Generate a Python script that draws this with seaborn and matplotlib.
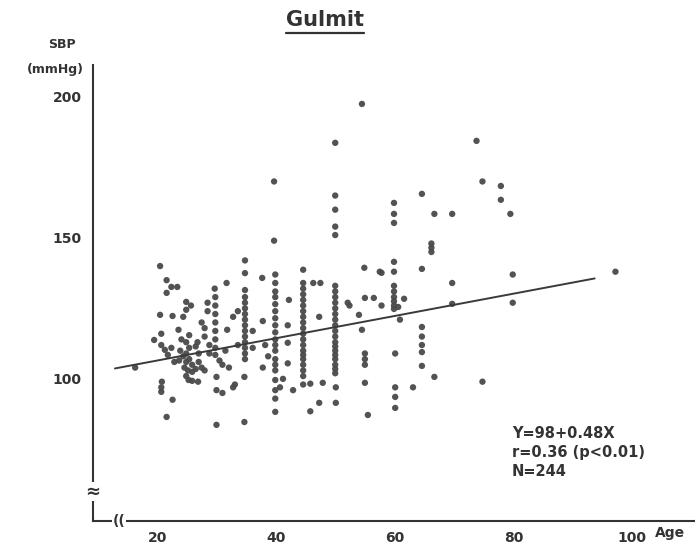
import matplotlib
matplotlib.use("Agg")
import matplotlib.pyplot as plt
import seaborn as sns
import pandas as pd
import numpy as np
from matplotlib.lines import Line2D

# ---------------- data ----------------
age = [
    # ~17-23
    16.3, 20.5, 21.6, 22.4, 23.4, 21.6, 20.5, 22.6, 23.6, 20.7, 19.5, 20.7, 21.3, 21.8, 20.8, 20.7, 20.7, 22.6, 21.6, 22.9, 22.4,
    # 24-27 cluster
    24.4, 24.9, 25.7, 24.9, 24.1, 24.9, 25.4, 24.9, 24.4, 25.4, 24.9, 25.9, 24.6, 25.2, 25.9, 24.9, 26.5, 27.0, 27.0, 26.5,
    25.3, 26.9, 25.9, 25.4, 26.8, 27.5, 23.9, 23.7,
    # 27-33
    27.5, 28.0, 28.0, 28.5, 28.5, 29.7, 29.8, 29.8, 29.8, 29.8, 29.8, 29.8, 29.8, 29.8, 28.8, 28.8, 30.0, 30.0, 31.0, 30.0,
    31.0, 32.1, 31.7, 31.8, 32.8, 32.8, 33.1, 31.5, 30.5, 28.0,
    # ~35
    34.8, 34.8, 34.8, 34.8, 34.8, 34.8, 34.8, 34.8, 34.8, 34.8, 34.8, 34.8, 34.8, 34.8, 34.8, 34.7, 34.7, 36.1, 33.6, 36.1, 33.6,
    # ~40
    37.7, 37.8, 37.8, 39.9, 39.9, 39.9, 39.9, 39.9, 39.9, 39.9, 39.9, 39.9, 39.9, 39.9, 39.9, 39.9, 39.9, 39.9, 39.9, 39.9,
    39.9, 39.9, 38.2, 39.7, 39.7, 38.7, 41.2,
    # 41-43
    42.0, 42.0, 42.0, 42.9, 40.7, 42.2,
    # ~45
    44.6, 44.6, 44.6, 44.6, 44.6, 44.6, 44.6, 44.6, 44.6, 44.6, 44.6, 44.6, 44.6, 44.6, 44.6, 44.6, 44.6, 44.6, 44.6, 44.6,
    45.8, 46.3, 47.5, 47.3, 47.9, 47.3, 45.8,
    # ~50
    50.0, 50.0, 50.0, 50.0, 50.0, 50.0, 50.0, 50.0, 50.0, 50.0, 50.0, 50.0, 50.0, 50.0, 50.0, 50.0, 50.0, 50.0,
    50.0, 50.0, 50.0, 50.0, 50.0, 50.1, 50.1, 52.4,
    # 52-57
    54.0, 54.9, 55.0, 56.5, 54.5, 55.0, 55.0, 55.0, 55.0, 55.5, 57.8, 57.8, 54.5, 52.1,
    # ~60
    59.9, 59.9, 59.9, 59.9, 59.9, 59.9, 59.9, 59.9, 59.9, 59.9, 59.9, 61.6, 60.6, 60.9, 60.1, 60.1, 60.1, 60.1, 63.1, 57.5,
    # 64-66
    64.6, 66.7, 66.2, 66.2, 66.2, 64.6, 64.6, 64.6, 64.6, 64.6, 64.6, 66.7,
    # 69+
    69.7, 69.7, 69.7, 73.8, 74.8, 77.9, 77.9, 79.5, 79.9, 79.9, 74.8, 97.2,
]
sbp = [
    104.0, 140.0, 135.0, 132.6, 132.6, 130.5, 122.7, 122.3, 117.4, 116.0, 113.8, 112.0, 110.3, 108.5, 99.0, 97.0, 95.4, 92.6, 86.5, 106.0, 111.0,
    122.0, 127.3, 126.0, 124.5, 114.0, 113.0, 111.0, 109.0, 108.0, 107.0, 106.0, 105.0, 104.0, 103.0, 102.5, 101.0, 103.5, 106.0, 109.0, 111.5,
    99.6, 99.0, 99.3, 115.5, 113.0, 104.0, 110.0, 106.5,
    120.0, 118.0, 115.0, 124.0, 127.0, 132.0, 129.0, 126.0, 123.0, 120.0, 117.0, 114.0, 111.0, 108.5, 112.0, 109.0, 100.7, 96.0, 95.0, 83.7,
    105.0, 104.0, 134.0, 117.4, 122.0, 97.0, 98.0, 110.0, 106.5, 103.0,
    131.5, 129.0, 127.0, 125.0, 123.0, 121.0, 119.0, 117.0, 115.0, 113.0, 111.0, 109.0, 107.0, 142.0, 137.5, 100.7, 84.7, 111.0, 112.0, 117.0, 124.0,
    135.8, 120.5, 104.0, 137.0, 134.0, 131.0, 129.0, 126.5, 124.0, 121.5, 119.0, 116.5, 114.0, 112.0, 110.0, 107.0, 105.0, 103.0, 99.6,
    96.0, 93.0, 88.3, 112.0, 149.0, 170.0, 108.0, 100.0,
    119.0, 112.8, 105.5, 96.0, 97.0, 128.0,
    138.7, 134.0, 132.0, 130.0, 128.0, 126.0, 124.0, 122.0, 120.0, 118.0, 116.0, 114.0, 112.0, 110.0, 108.5, 107.0, 105.0, 103.0, 101.0, 98.0,
    98.3, 134.0, 134.0, 122.0, 98.6, 91.5, 88.5,
    133.0, 131.0, 129.0, 127.0, 125.0, 123.0, 121.0, 119.0, 117.0, 115.0, 113.0, 111.5, 110.0, 108.5, 107.0, 105.0, 103.5, 102.0,
    183.7, 165.0, 160.0, 154.0, 151.0, 97.0, 91.5, 126.0,
    122.7, 139.4, 128.7, 128.7, 117.4, 109.0, 107.0, 105.0, 98.6, 87.2, 137.6, 126.0, 197.5, 127.0,
    162.4, 158.5, 155.3, 141.5, 138.0, 133.0, 131.0, 129.0, 127.5, 126.0, 124.8, 128.4, 125.5, 121.0, 109.0, 97.0, 93.6, 89.7, 97.0, 138.0,
    165.6, 158.5, 148.0, 146.5, 145.0, 139.0, 118.4, 115.0, 112.0, 109.5, 104.6, 100.7,
    158.5, 134.0, 126.6, 184.4, 170.0, 168.4, 163.5, 158.5, 137.0, 127.0, 99.0, 138.0,
]

x_ticks = [20, 40, 60, 80, 100]
y_ticks = [100, 150, 200]
line_age = [12.9, 93.7]                   # extent of the drawn regression line
line_intercept, line_slope = 98.6, 0.395  # line as drawn in the picture
title = "Gulmit"
stats_text = ["Y=98+0.48X", "r=0.36 (p<0.01)", "N=244"]

n = min(len(age), len(sbp))
df = pd.DataFrame({"Age": age[:n], "SBP": sbp[:n]})

# ---------------- figure ----------------
sns.set_theme(style="white")
plt.rcParams['font.family'] = ['DejaVu Sans']

W, H = 695, 549
fig = plt.figure(figsize=(W/100, H/100), dpi=100)
ax_left, ax_bottom_px, ax_top_px = 93, 521, 65
ax = fig.add_axes([ax_left/W, (H - ax_bottom_px)/H, 1 - ax_left/W, (ax_bottom_px - ax_top_px)/H])

col = "#4a4a4a"
sns.scatterplot(data=df, x="Age", y="SBP", ax=ax, color=col, s=21,
                edgecolor="none", linewidth=0, alpha=0.95)

lx = np.array(line_age)
sns.lineplot(x=lx, y=line_intercept + line_slope * lx, ax=ax, color="#3a3a3a", lw=1.4)

ax.set_xlim(9.2, 110.6)
ax.set_ylim(49.6, 211.3)
ax.set_xticks(x_ticks)
ax.set_yticks(y_ticks)
ax.set_xticklabels([str(t) for t in x_ticks])
ax.set_yticklabels([str(t) for t in y_ticks])
ax.set_xlabel("")
ax.set_ylabel("")
for s in ["top", "right"]:
    ax.spines[s].set_visible(False)
for s in ["left", "bottom"]:
    ax.spines[s].set_color("#333333")
    ax.spines[s].set_linewidth(1.5)
ax.tick_params(axis="x", direction="out", length=4, width=1.2, color="#333333",
               labelsize=10, labelcolor="#333333", pad=3)
ax.tick_params(axis="y", direction="out", length=5, width=1.2, color="#333333",
               labelsize=10, labelcolor="#333333", pad=3)
for lab in ax.get_xticklabels() + ax.get_yticklabels():
    lab.set_fontweight("bold")
ax.grid(False)

# axis break marks
ax.text(0, 60.0, "≈", transform=ax.get_yaxis_transform(), ha="center", va="center",
        fontsize=13, color="#333333", fontweight="bold",
        bbox=dict(facecolor="white", edgecolor="none", pad=0.3))
ax.text(13.6, 0, "((", transform=ax.get_xaxis_transform(), ha="center", va="center",
        fontsize=10, color="#333333", fontweight="bold",
        bbox=dict(facecolor="white", edgecolor="none", pad=0.2))

# axis titles
fig.text(670/W, (H - 533)/H, "Age", ha="center", va="center", fontsize=10,
         fontweight="bold", color="#333333")
fig.text(62/W, (H - 45)/H, "SBP", ha="center", va="center", fontsize=9,
         fontweight="bold", color="#333333")
fig.text(55/W, (H - 70)/H, "(mmHg)", ha="center", va="center", fontsize=9,
         fontweight="bold", color="#333333")

# title with underline
t = fig.text(325/W, (H - 20)/H, title, ha="center", va="center", fontsize=15,
             fontweight="bold", color="#333333")
fig.canvas.draw()
bb = t.get_window_extent().transformed(fig.transFigure.inverted())
fig.add_artist(Line2D([bb.x0, bb.x1], [bb.y0 - 0.006, bb.y0 - 0.006],
                      transform=fig.transFigure, color="#333333", lw=1.6))

# statistics text
for i, s in enumerate(stats_text):
    fig.text(512/W, (H - (433 + 19 * i))/H, s, ha="left", va="center",
             fontsize=10.5, fontweight="bold", color="#333333")

fig.savefig("out.png", dpi=100)
